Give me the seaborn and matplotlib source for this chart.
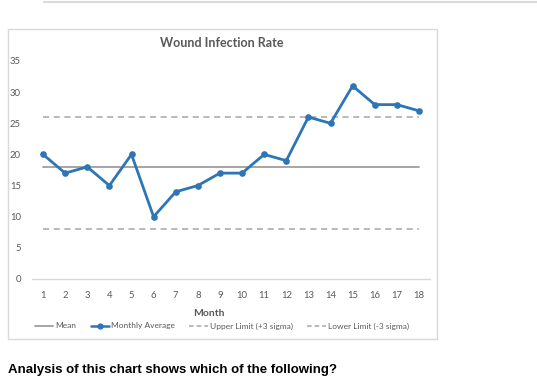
import matplotlib
matplotlib.use('Agg')
import matplotlib.pyplot as plt
import seaborn as sns
import pandas as pd
from matplotlib.patches import Rectangle

# datos
months = list(range(1, 19))
monthly_avg = [20, 17, 18, 15, 20, 10, 14, 15, 17, 17, 20, 19, 26, 25, 31, 28, 28, 27]
mean_val = 18
upper_limit = 26
lower_limit = 8
y_ticks = [0, 5, 10, 15, 20, 25, 30, 35]

df = pd.DataFrame({
    "Month": months,
    "Monthly Average": monthly_avg,
    "Mean": [mean_val] * len(months),
    "Upper Limit (+3 sigma)": [upper_limit] * len(months),
    "Lower Limit (-3 sigma)": [lower_limit] * len(months),
})

sns.set_style("white")
plt.rcParams['font.family'] = ['Lato', 'DejaVu Sans']

W, H = 537, 387
fig = plt.figure(figsize=(W / 100, H / 100), dpi=100)
ax = fig.add_axes([32 / W, 1 - 279 / H, 398 / W, 218 / H])

blue = '#2E75B6'
gray = '#A5A5A5'

sns.lineplot(data=df, x="Month", y="Mean", ax=ax, color=gray, linewidth=1.4)
sns.lineplot(data=df, x="Month", y="Upper Limit (+3 sigma)", ax=ax, color=gray,
             linewidth=1.1, linestyle=(0, (4, 3)))
sns.lineplot(data=df, x="Month", y="Lower Limit (-3 sigma)", ax=ax, color=gray,
             linewidth=1.1, linestyle=(0, (4, 3)))
sns.lineplot(data=df, x="Month", y="Monthly Average", ax=ax, color=blue,
             linewidth=2, marker='o', markersize=4.8, markeredgewidth=0)

ax.set_xlim(0.5, 18.5)
ax.set_ylim(0, 35)
ax.set_xticks(months)
ax.set_yticks(y_ticks)
ax.tick_params(axis='both', length=0, labelsize=6.8, labelcolor='#595959')
ax.tick_params(axis='x', pad=9)
ax.tick_params(axis='y', pad=8)
for side in ['top', 'right', 'left']:
    ax.spines[side].set_visible(False)
ax.spines['bottom'].set_color('#D9D9D9')
ax.spines['bottom'].set_linewidth(1)
ax.set_xlabel("")
ax.set_ylabel("")
ax.patch.set_alpha(0)

# marco del grafico
fig.patches.append(Rectangle((8 / W, 1 - 339 / H), 429 / W, 310 / H,
                             transform=fig.transFigure, fill=False,
                             edgecolor='#D9D9D9', linewidth=1, zorder=0))
fig.add_artist(plt.Line2D([44 / W, 1], [1 - 1.5 / H, 1 - 1.5 / H],
                          transform=fig.transFigure, color='#DADADA', linewidth=1.5))

fig.text(222 / W, 1 - 43 / H, "Wound Infection Rate", ha='center', va='center',
         fontsize=9, fontweight='bold', color='#595959')
fig.text(209 / W, 1 - 313 / H, "Month", ha='center', va='center',
         fontsize=7.5, fontweight='bold', color='#595959')

handles = [
    plt.Line2D([], [], color=gray, linewidth=1.4),
    plt.Line2D([], [], color=blue, linewidth=1.8, marker='o', markersize=3.5),
    plt.Line2D([], [], color=gray, linewidth=1.1, linestyle=(0, (3, 2))),
    plt.Line2D([], [], color=gray, linewidth=1.1, linestyle=(0, (3, 2))),
]
labels = ["Mean", "Monthly Average", "Upper Limit (+3 sigma)", "Lower Limit (-3 sigma)"]
fig.legend(handles, labels, loc='center', bbox_to_anchor=(222 / W, 1 - 326 / H),
           ncol=4, frameon=False, fontsize=6, handlelength=2.2, handletextpad=0.3,
           columnspacing=1.7, labelcolor='#595959')

fig.text(8 / W, 1 - 370 / H, "Analysis of this chart shows which of the following?",
         ha='left', va='center', fontsize=9.5, fontweight='bold', color='black',
         family=['Liberation Sans', 'DejaVu Sans'])

plt.savefig("out.png", dpi=100)
plt.close()
